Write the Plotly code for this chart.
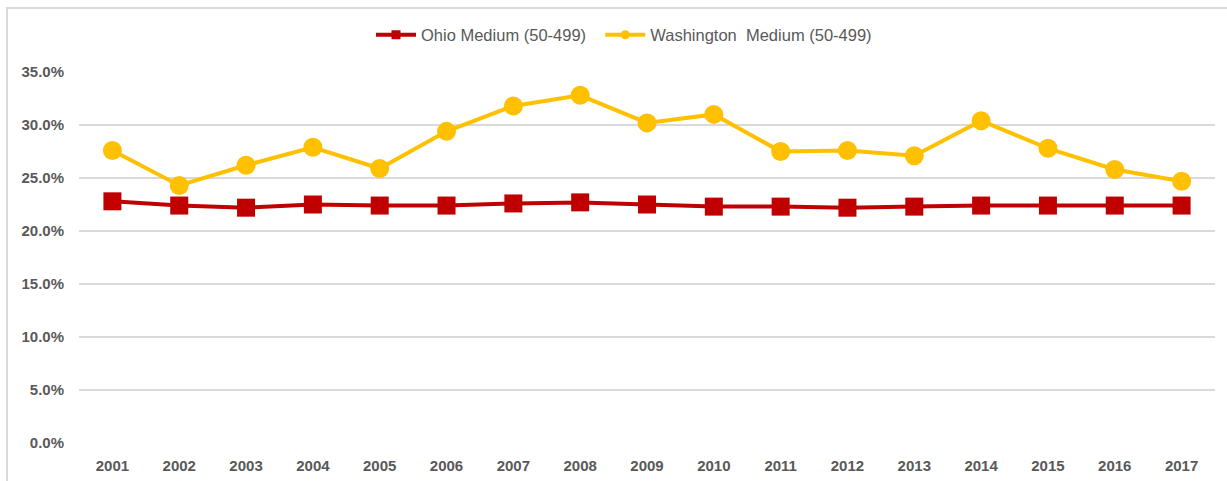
import plotly.graph_objects as go

# ---------------------------------------------------------------------------
# Data
# ---------------------------------------------------------------------------

years = [str(y) for y in range(2001, 2018)]

ohio_medium = [22.8, 22.4, 22.2, 22.5, 22.4, 22.4, 22.6, 22.7, 22.5,
               22.3, 22.3, 22.2, 22.3, 22.4, 22.4, 22.4, 22.4]

washington_medium = [27.6, 24.3, 26.2, 27.9, 25.9, 29.4, 31.8, 32.8, 30.2,
                     31.0, 27.5, 27.6, 27.1, 30.4, 27.8, 25.8, 24.7]

y_ticks = [0, 5, 10, 15, 20, 25, 30, 35]
y_tick_labels = [f"{v:.1f}%" for v in y_ticks]

# ---------------------------------------------------------------------------
# Layout geometry (pixels)
# ---------------------------------------------------------------------------

W, H = 1227, 481
L, R, T, B = 79, 12, 72, 38
PW, PH = W - L - R, H - T - B


def px_x(px):
    return (px - L) / PW


def px_y(py):
    return (H - B - py) / PH


OHIO_RED = "#C00000"
WA_GOLD = "#FFC000"
TEXT_GRAY = "#595959"
GRID = "#D9D9D9"
FONT = "Liberation Sans"
NBSP = "\u00a0"

fig = go.Figure()

# --- main series ---
fig.add_trace(go.Scatter(
    x=years, y=ohio_medium, mode="lines+markers", showlegend=False,
    line=dict(color=OHIO_RED, width=4),
    marker=dict(symbol="square", size=18, color=OHIO_RED),
))
fig.add_trace(go.Scatter(
    x=years, y=washington_medium, mode="lines+markers", showlegend=False,
    line=dict(color=WA_GOLD, width=4),
    marker=dict(symbol="circle", size=19, color=WA_GOLD),
))

# --- legend entries (small markers, like Excel) ---
fig.add_trace(go.Scatter(
    x=[years[0]], y=[None], mode="lines+markers",
    name="Ohio Medium (50-499)" + NBSP * 2,
    line=dict(color=OHIO_RED, width=4),
    marker=dict(symbol="square", size=9, color=OHIO_RED),
))
fig.add_trace(go.Scatter(
    x=[years[0]], y=[None], mode="lines+markers",
    name="Washington" + NBSP * 2 + "Medium (50-499)",
    line=dict(color=WA_GOLD, width=4),
    marker=dict(symbol="circle", size=9, color=WA_GOLD),
))

# --- chart frame (cropped on the right and bottom) ---
fig.add_shape(
    type="rect", xref="paper", yref="paper",
    x0=px_x(7), x1=px_x(W + 20), y0=px_y(H + 20), y1=px_y(8),
    line=dict(color=GRID, width=2), fillcolor="rgba(0,0,0,0)", layer="below",
)

# --- title, mostly cut off at the top edge in the source ---
fig.add_annotation(
    text="<b>Share of Employment in Medium Firms</b>",
    xref="paper", yref="paper", x=px_x(10), y=px_y(2),
    xanchor="left", yanchor="bottom", showarrow=False,
    font=dict(family=FONT, size=24, color="#000000"),
)

fig.update_layout(
    width=W, height=H,
    margin=dict(l=L, r=R, t=T, b=B, autoexpand=False),
    paper_bgcolor="white",
    plot_bgcolor="white",
    font=dict(family=FONT, color=TEXT_GRAY),
    legend=dict(
        orientation="h", x=px_x(624), y=px_y(35),
        xanchor="center", yanchor="middle",
        font=dict(family=FONT, size=16.5, color=TEXT_GRAY),
        itemwidth=40, tracegroupgap=0,
    ),
    xaxis=dict(
        type="category", range=[-0.5, len(years) - 0.5],
        showgrid=False, zeroline=False, showline=False,
        ticks="outside", ticklen=9, tickcolor="white",
        tickfont=dict(family=FONT, size=15, color=TEXT_GRAY, weight="bold"),
    ),
    yaxis=dict(
        range=[0, 35], tickvals=y_ticks, ticktext=y_tick_labels,
        showgrid=True, gridcolor=GRID, gridwidth=1.5,
        zeroline=False, showline=False,
        ticks="outside", ticklen=11, tickcolor="white",
        tickfont=dict(family=FONT, size=15, color=TEXT_GRAY, weight="bold"),
    ),
)

# the default page keeps an 8px body margin; drop it so the figure fills the window
fig.write_html(
    "out.html",
    config={"displayModeBar": False},
    post_script="document.body.style.margin = '0';",
)
